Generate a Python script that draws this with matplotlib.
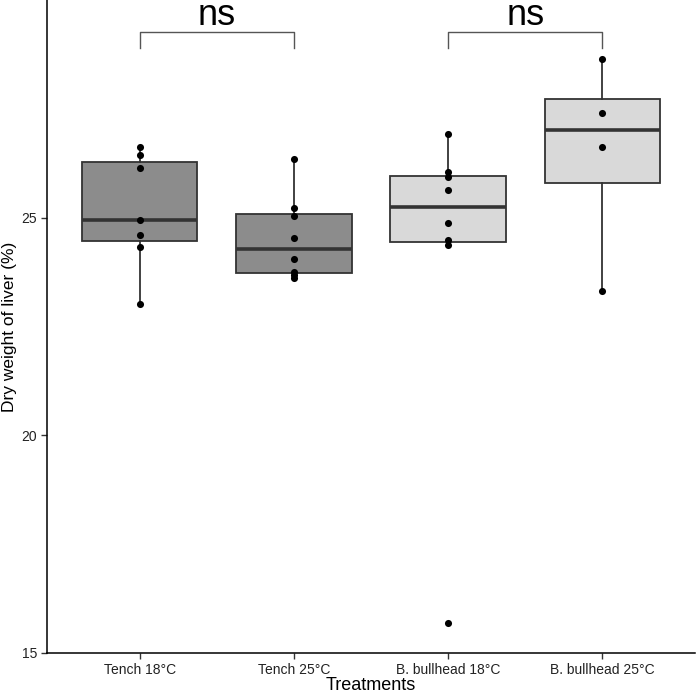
import matplotlib
matplotlib.use("Agg")
import matplotlib.pyplot as plt
import numpy as np

plt.rcParams['font.family'] = ['Liberation Sans', 'DejaVu Sans']

categories = ["Tench 18°C", "Tench 25°C", "B. bullhead 18°C", "B. bullhead 25°C"]
tench_18 = [26.62, 26.43, 26.15, 24.94, 24.61, 24.33, 23.02]
tench_25 = [26.34, 25.23, 25.03, 24.53, 24.05, 23.75, 23.68, 23.62]
bullhead_18 = [26.93, 26.04, 25.94, 25.63, 24.87, 24.48, 24.37, 15.68]
bullhead_25 = [28.64, 27.41, 26.62, 23.31]
fill_colors = ["#8C8C8C", "#8C8C8C", "#D9D9D9", "#D9D9D9"]
comparisons = [(1, 2, "ns"), (3, 4, "ns")]
yticks = [15, 20, 25]

data = [tench_18, tench_25, bullhead_18, bullhead_25]
positions = np.arange(1, len(categories) + 1)

fig = plt.figure(figsize=(6.96, 6.93), dpi=100)
ax = fig.add_axes([47/696, 40/693, 648/696, 653/693])

edge = "#333333"
bp = ax.boxplot(data, positions=positions, widths=0.75, patch_artist=True,
                showfliers=False, showcaps=False, whis=1.5,
                medianprops=dict(color=edge, linewidth=2.6),
                whiskerprops=dict(color=edge, linewidth=1.3),
                boxprops=dict(edgecolor=edge, linewidth=1.3))
for patch, c in zip(bp['boxes'], fill_colors):
    patch.set_facecolor(c)

for p, vals in zip(positions, data):
    ax.scatter(np.full(len(vals), p), vals, s=26, color="black", zorder=5, linewidths=0)

# significance brackets
for a, b, lab in comparisons:
    ax.plot([a, a, b, b], [28.89, 29.27, 29.27, 28.89], color="#555555", lw=1.0,
            clip_on=False)
    ax.text((a + b) / 2, 29.43, lab, ha='center', va='baseline', fontsize=26,
            color="black")

ax.set_xlim(0.4, 4.6)
ax.set_ylim(15, 30)
ax.set_xticks(positions)
ax.set_xticklabels(categories, fontsize=10, color="#222222")
ax.set_yticks(yticks)
ax.set_yticklabels([str(t) for t in yticks], fontsize=10, color="#222222")
ax.tick_params(direction='out', length=4, width=1, color="#333333", pad=3)

for s in ['top', 'right']:
    ax.spines[s].set_visible(False)
for s in ['left', 'bottom']:
    ax.spines[s].set_linewidth(1.1)
    ax.spines[s].set_color("black")

ax.set_xlabel("Treatments", fontsize=13, labelpad=0)
ax.set_ylabel("Dry weight of liver (%)", fontsize=12.5, va='center')
ax.yaxis.set_label_coords((10 - 47) / 648, 0.5)

fig.savefig("out.png", dpi=100)
